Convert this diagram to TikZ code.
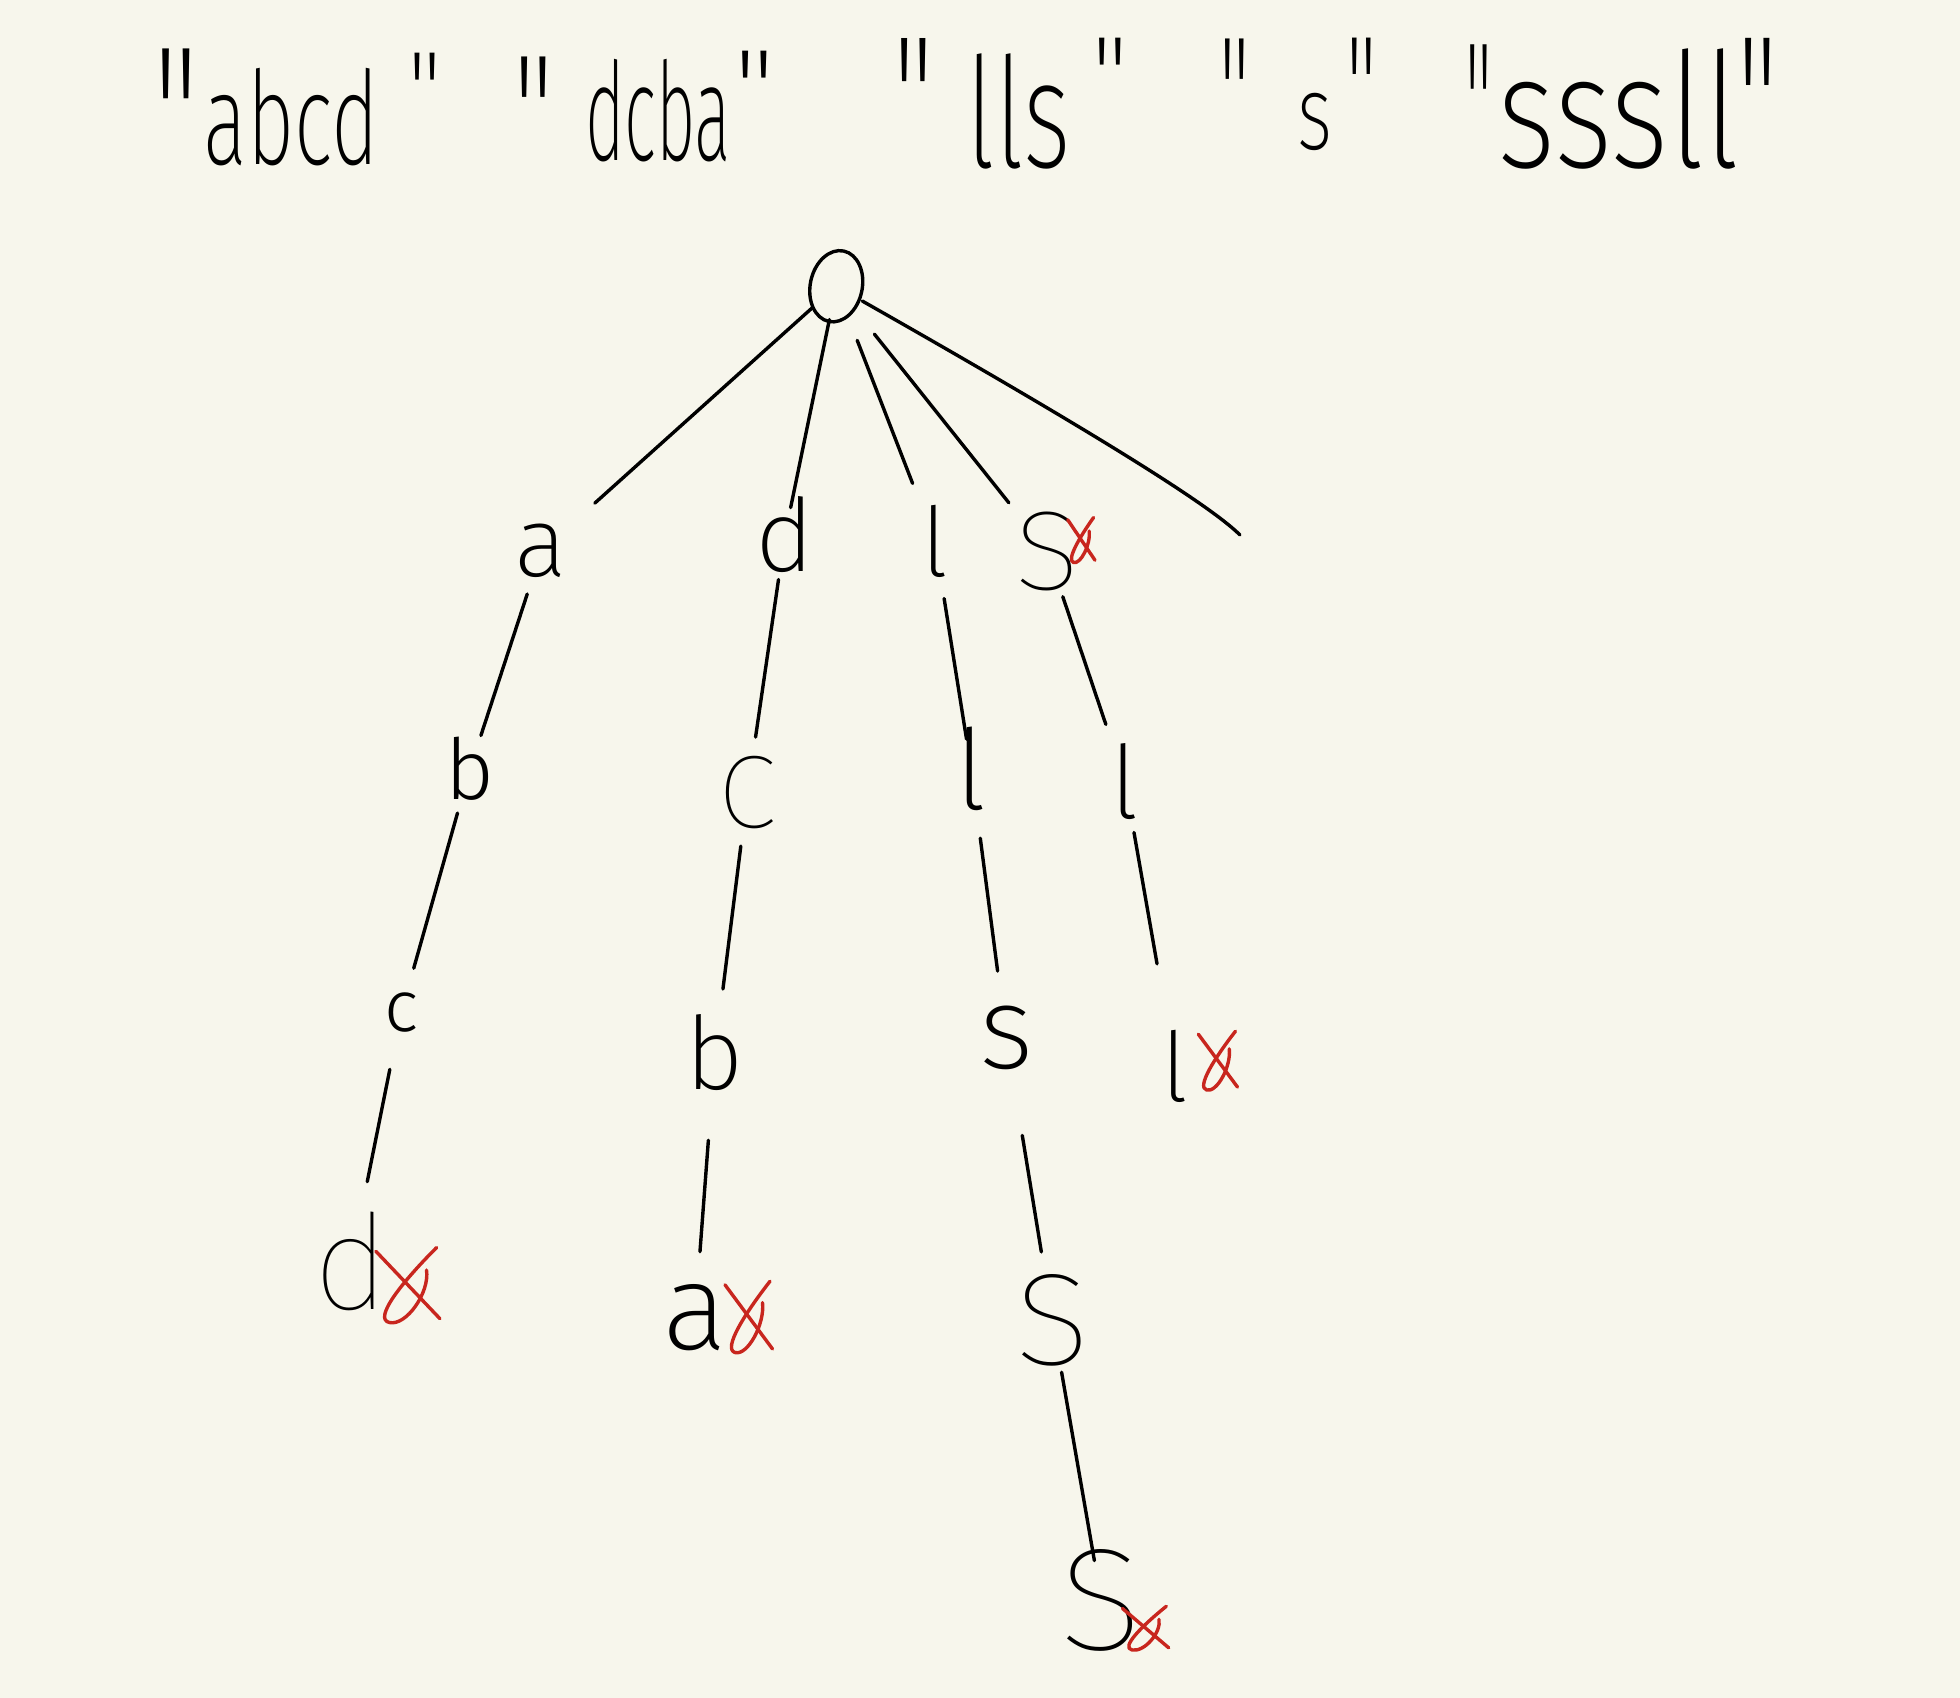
\documentclass[tikz,border=0pt]{standalone}
\usepackage{fontspec}
\usepackage{graphicx}
\usetikzlibrary{shapes.geometric}
\newfontfamily\handL{Fira Sans}[UprightFont=* Light]
\newfontfamily\handE{Fira Sans}[UprightFont=* ExtraLight]
\newfontfamily\handT{Fira Sans}[UprightFont=* Thin]
\newdimen\myu \myu=0.625pt
\newcommand{\hl}[3]{\resizebox{!}{#1\myu}{#2#3}}
\newcommand{\hword}[4]{\resizebox{#1\myu}{#2\myu}{#3#4}}
\newcommand{\hq}[2]{\resizebox{#1\myu}{#2\myu}{\handE\raisebox{-0.46em}[0.23em][0pt]{"}}}
\newcommand{\rmark}[4]{\begin{scope}[shift={(#1,#2)}, xscale=#3, yscale=#4]
  \draw[redstroke] (0.05,0.05) -- (1,0.95);
  \draw[redstroke] (0.95,0) .. controls (0.45,0.45) and (0,0.95) .. (0.25,1) .. controls (0.5,1.05) and (0.85,0.6) .. (0.8,0.3);
\end{scope}}
\definecolor{paper}{RGB}{247,246,236}
\definecolor{inkred}{RGB}{200,38,30}
\begin{document}
\begin{tikzpicture}[x=0.625pt, y=-0.625pt,
  edge/.style={line width=1.7pt, line cap=round, line join=round},
  redstroke/.style={draw=inkred, line width=1.7pt, line cap=round, line join=round},
  lt/.style={inner sep=0pt, outer sep=0pt},
  qt/.style={inner sep=0pt, outer sep=0pt, anchor=north}]
\fill[paper] (0,0) rectangle (1568,1358);
\useasboundingbox (0,0) rectangle (1568,1358);
% words
\node[lt] (w1) at (233,93.5) {\hword{140}{77}{\handE}{abcd}};
\node[lt] (w2) at (526.5,88.5) {\hword{117}{81}{\handE}{dcba}};
\node[lt] (w3) at (815,89.5) {\hword{84}{91}{\handE}{lls}};
\node[lt] (w4) at (1052,97.5) {\hword{28}{45}{\handE}{s}};
\node[lt] (w5) at (1295,87.5) {\hword{194}{95}{\handE}{sssll}};
% quotes
\node[qt] (q1o) at (141,38) {\hq{38}{37}};
\node[qt] (q1c) at (340,42) {\hq{28}{20}};
\node[qt] (q2o) at (427,45) {\hq{34}{30}};
\node[qt] (q2c) at (604,40) {\hq{34}{20}};
\node[qt] (q3o) at (731,30) {\hq{34}{32}};
\node[qt] (q3c) at (888,30) {\hq{30}{20}};
\node[qt] (q4o) at (988,30) {\hq{26}{30}};
\node[qt] (q4c) at (1089,30) {\hq{26}{27}};
\node[qt] (q5o) at (1183,35) {\hq{23}{33}};
\node[qt] (q5c) at (1406,30) {\hq{34}{35}};
% tree
\node[draw, ellipse, edge, minimum width=26pt, minimum height=36pt, inner sep=0pt, rotate=-12] (root) at (669,229) {};
\node[lt] (a1) at (433,441) {\hl{42}{\handE}{a}};
\node[lt] (d1) at (628,428) {\hl{60}{\handE}{d}};
\node[lt] (l1) at (748,433) {\hl{57}{\handE}{l}};
\node[lt] (s1) at (838,441) {\hl{62}{\handT}{s}};
\coordinate (e1) at (992,428);
\node[lt] (b2) at (376,615) {\hl{50}{\handL}{b}};
\node[lt] (c2) at (598,634) {\hl{57}{\handT}{c}};
\node[lt] (l2) at (777,615) {\hl{66}{\handE}{l}};
\node[lt] (m2) at (900,625) {\hl{60}{\handE}{l}};
\node[lt] (c3) at (321,810) {\hl{31}{\handL}{c}};
\node[lt] (b3) at (572,842) {\hl{60}{\handE}{b}};
\node[lt] (s3) at (805,830) {\hl{50}{\handE}{s}};
\node[lt] (l3) at (940,853) {\hl{57}{\handE}{l}};
\node[lt] (d4) at (281,1009) {\hl{78}{\handT}{d}};
\node[lt] (a4) at (556,1054) {\hl{52}{\handE}{a}};
\node[lt] (s4) at (842,1056) {\hl{72}{\handT}{s}};
\node[lt] (s5) at (881,1280) {\hl{80}{\handT}{s}};
% edges
\draw[edge, shorten <=16pt, shorten >=36pt] (root.center) -- (a1.center);
\draw[edge, shorten <=17pt, shorten >=14pt] (root.center) -- (d1.center);
\draw[edge, shorten <=29pt, shorten >=31pt] (root.center) -- (l1.center);
\draw[edge, shorten <=30.6pt, shorten >=31pt] (root.center) -- (s1.center);
\draw[edge, shorten <=15pt] (root.center) .. controls (900,360) and (972,408) .. (e1);
\draw[edge, shorten <=22.5pt, shorten >=17.5pt] (a1.center) -- (b2.center);
\draw[edge, shorten <=22.5pt, shorten >=28pt] (d1.center) -- (c2.center);
\draw[edge, shorten <=29pt, shorten >=15pt] (l1.center) -- (l2.center);
\draw[edge, shorten <=24pt, shorten >=30pt] (s1.center) -- (m2.center);
\draw[edge, shorten <=23pt, shorten >=23pt] (b2.center) -- (c3.center);
\draw[edge, shorten <=27pt, shorten >=32pt] (c2.center) -- (b3.center);
\draw[edge, shorten <=35pt, shorten >=33.5pt] (l2.center) -- (s3.center);
\draw[edge, shorten <=26pt, shorten >=52pt] (m2.center) -- (l3.center);
\draw[edge, shorten <=29pt, shorten >=40.6pt] (c3.center) -- (d4.center);
\draw[edge, shorten <=44pt, shorten >=33pt] (b3.center) -- (a4.center);
\draw[edge, shorten <=49.6pt, shorten >=34.5pt] (s3.center) -- (s4.center);
\draw[edge, shorten <=26.5pt, shorten >=20pt] (s4.center) -- (s5.center);
% terminal marks
\rmark{298}{998}{54}{60}
\rmark{578}{1025}{40}{57}
\rmark{957}{825}{33}{47}
\rmark{896}{1285}{39}{35}
\rmark{853}{414}{23}{36}
\end{tikzpicture}
\end{document}
